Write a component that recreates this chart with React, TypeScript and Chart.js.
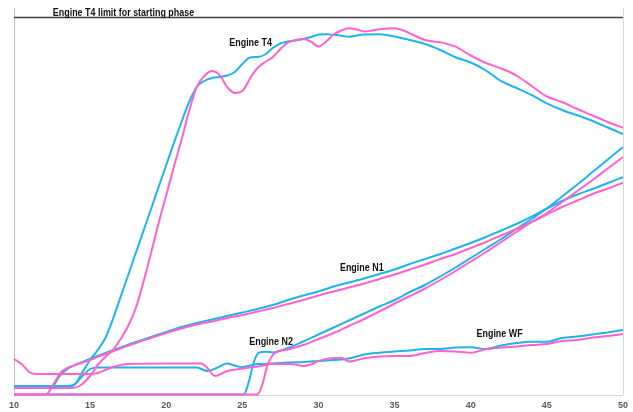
import { useEffect, useRef } from 'react';
import { Chart, registerables } from 'chart.js';

Chart.register(...registerables);

type Pt = [number, number];

// Time axis (s)
const X_MIN = 10;
const X_MAX = 50;
const X_STEP = 5;
const xTicks = [10, 15, 20, 25, 30, 35, 40, 45, 50];

// Vertical scale in relative units (no tick labels shown)
const Y_MAX = 387;
const T4_LIMIT = 377.5;

// Run 1 (blue) and run 2 (pink) traces
const t4Run1: Pt[] = [
  [10, 9], [12, 9], [13.5, 9], [14, 11], [14.5, 23], [15, 35], [15.5, 45], [16, 57], [16.5, 76],
  [17, 98], [17.5, 120], [18, 142], [18.5, 164], [19, 186], [19.5, 208], [20, 230], [20.5, 252],
  [21, 273], [21.5, 293], [22, 308], [22.5, 314], [23, 317], [23.5, 318], [24, 319.5], [24.5, 323],
  [25, 331], [25.5, 337.5], [26, 338], [26.5, 340.5], [27, 347], [27.5, 351.5], [28, 353.5],
  [28.5, 354.5], [29, 356], [29.5, 358], [30, 360.5], [30.5, 360.8], [31, 360.2], [31.5, 359.3],
  [32, 358.3], [33, 360.6], [34, 360.7], [35, 358.5], [36, 355], [37, 351], [38, 345], [39, 337.7],
  [40, 332.5], [41, 324.5], [42, 313.8], [43, 307], [44, 300], [45, 291.7], [46, 285], [47, 279.7],
  [48, 274], [49, 267.5], [50, 261],
];
const t4Run2: Pt[] = [
  [10, 7], [13.8, 7], [14.3, 9], [15, 19], [15.5, 30], [16, 38], [16.5, 45], [17, 56], [17.5, 69],
  [18, 87], [18.5, 113], [19, 142], [19.5, 172], [20, 200], [20.5, 228], [21, 255], [21.5, 284],
  [22, 308], [22.5, 319], [23, 324], [23.5, 320], [24, 308], [24.5, 302], [25, 304], [25.6, 319],
  [26, 327], [26.5, 333], [27, 338], [27.5, 346], [28, 352.5], [28.5, 355], [29, 356], [29.5, 353.3],
  [30, 348.5], [30.5, 353.5], [31, 360.5], [31.5, 364.5], [32, 366.7], [32.5, 365.5], [33, 363.5],
  [33.5, 364.5], [34, 365.7], [35, 366.7], [35.5, 365], [36, 361.7], [37, 355], [38, 352.7],
  [39, 348.3], [40, 339.5], [41, 332], [42, 326.5], [43, 319.5], [44, 309], [45, 298.5], [46, 293],
  [47, 286], [48, 279.5], [49, 273], [50, 267.3],
];

const n1Run1: Pt[] = [
  [10, 9], [12.5, 9], [13, 19], [13.5, 26], [14, 30], [15, 36], [16, 42], [17, 47.5], [18, 53],
  [19, 58], [20, 63], [21, 68], [22, 72], [23, 75.5], [24, 79], [25, 82.5], [26, 86], [27, 90],
  [28, 95], [29, 99.5], [30, 103.5], [31, 108.5], [32, 112.5], [33, 116.5], [34, 121], [35, 125.5],
  [36, 131], [37, 136], [38, 141], [39, 146.5], [40, 152], [41, 158], [42, 164.5], [43, 171],
  [44, 178.3], [45, 186.5], [46, 194], [47, 200.5], [48, 206], [49, 212], [50, 217.7],
];
const n1Run2: Pt[] = [
  [10, 0.5], [12.1, 0.5], [12.6, 11], [13.1, 23], [13.5, 27], [14, 30], [15, 35], [16, 41],
  [17, 46.5], [18, 52], [19, 57], [20, 62], [21, 66.5], [22, 70.5], [23, 73.5], [24, 77], [25, 80],
  [26, 83.5], [27, 87], [28, 91], [29, 95], [30, 99.5], [31, 103.5], [32, 107.5], [33, 111.5],
  [34, 116], [35, 120.5], [36, 125.5], [37, 130.5], [38, 136], [39, 141], [40, 147], [41, 153],
  [42, 159.5], [43, 166], [44, 173], [45, 180.5], [46, 188], [47, 194.5], [48, 201], [49, 206.5],
  [50, 212.3],
];

const n2Run1: Pt[] = [
  [10, 0.5], [25.1, 0.5], [25.4, 12], [25.8, 35], [26.1, 42.3], [26.5, 43.3], [27, 42.5],
  [27.5, 44.5], [28, 47], [29, 53.5], [30, 60.5], [31, 67.5], [32, 74.5], [33, 81.5], [34, 88.5],
  [35, 95], [36, 103], [37, 110], [38, 118.5], [39, 127.5], [40, 137], [41, 146.5], [42, 156],
  [43, 166], [44, 176], [45, 186.5], [46, 198.5], [47, 210.5], [48, 223], [49, 235.5], [50, 248],
];
const n2Run2: Pt[] = [
  [10, 0.5], [26, 0.5], [26.3, 10], [26.65, 30], [27, 40], [27.3, 43.3], [28, 45.5], [29, 50],
  [30, 56], [31, 62], [32, 69], [33, 76], [34, 83.5], [35, 91.5], [36, 99], [37, 106.5], [38, 115],
  [39, 124], [40, 133.5], [41, 143], [42, 153], [43, 163], [44, 173], [45, 182], [46, 193],
  [47, 204], [48, 215], [49, 226.5], [50, 238],
];

const wfRun1: Pt[] = [
  [10, 9], [13.8, 9], [14.5, 19], [15, 26], [15.5, 27.5], [17, 27.5], [20, 27.5], [22, 27.5],
  [22.7, 24], [23.3, 27], [24, 31.5], [24.9, 28], [26, 31], [27, 31.5], [28, 32.5], [29, 33],
  [30, 34], [31, 35], [32, 36.5], [33, 40.5], [34, 42.3], [35, 43.5], [36, 44.5], [37, 46], [38, 46],
  [39, 47.5], [40, 47.7], [41, 46], [42, 49.5], [43, 52], [44, 53.3], [45, 53.3], [46, 57],
  [47, 58.5], [48, 60.5], [49, 62.5], [50, 65],
];
const wfRun2: Pt[] = [
  [10, 36], [10.5, 31], [11, 23], [11.5, 21], [15, 21], [15.5, 22], [16, 25], [16.5, 28], [17, 30],
  [17.5, 31], [20, 31.5], [22.3, 31.5], [22.7, 27], [23.2, 19], [24, 24], [24.8, 26], [26, 28.5],
  [27, 31], [28, 31], [28.5, 30.5], [29, 29], [29.5, 30.5], [30, 34], [31, 37], [31.5, 37.3],
  [32, 33.5], [33, 36.7], [34, 38.5], [35, 39], [36, 39], [37, 42], [38, 44], [39, 43.5],
  [40, 42.3], [41, 45.7], [42, 47.5], [43, 48.5], [44, 50], [45, 51], [46, 54], [47, 55],
  [48, 57.5], [49, 59], [50, 61],
];

// Text callouts, anchored in data coordinates (left edge, baseline)
const calloutText = ['Engine T4 limit for starting phase', 'Engine T4', 'Engine N1', 'Engine N2', 'Engine WF'];
const calloutX = [12.55, 24.14, 31.41, 25.45, 40.38];
const calloutY = [379, 349.3, 124, 50, 58];

const BLUE = '#1eb4ef';
const PINK = '#ff62cc';
const LABEL_FONT = 'bold 10.5px "Liberation Sans", Arial, sans-serif';
// callout lettering is set slightly condensed
const LABEL_CONDENSE = 0.85;

const toXY = (pts: Pt[]) => pts.map(([x, y]) => ({ x, y }));

const frameAndCallouts = {
  id: 'frameAndCallouts',
  afterDatasetsDraw(chart: Chart) {
    const { ctx, chartArea, scales } = chart;
    const xs = scales.x;
    const ys = scales.y;
    ctx.save();
    // right frame line
    ctx.strokeStyle = '#d9d9d9';
    ctx.lineWidth = 1;
    ctx.beginPath();
    ctx.moveTo(Math.round(chartArea.right) + 0.5, chartArea.top);
    ctx.lineTo(Math.round(chartArea.right) + 0.5, chartArea.bottom);
    ctx.stroke();
    // callouts
    ctx.font = LABEL_FONT;
    ctx.fillStyle = '#111111';
    ctx.textAlign = 'left';
    ctx.textBaseline = 'alphabetic';
    calloutText.forEach((t, i) => {
      ctx.save();
      ctx.translate(xs.getPixelForValue(calloutX[i]), ys.getPixelForValue(calloutY[i]));
      ctx.scale(LABEL_CONDENSE, 1);
      ctx.fillText(t, 0, 0);
      ctx.restore();
    });
    ctx.restore();
  },
};

export default function App() {
  const ref = useRef<HTMLCanvasElement | null>(null);

  useEffect(() => {
    document.body.style.margin = '0';
    const canvas = ref.current;
    if (!canvas) return;

    const line = (pts: Pt[], color: string) => ({
      data: toXY(pts),
      borderColor: color,
      backgroundColor: color,
      borderWidth: 2,
      pointRadius: 0,
      fill: false,
      cubicInterpolationMode: 'monotone' as const,
      tension: 0.4,
      clip: 4,
    });

    const chart = new Chart(canvas, {
      type: 'line',
      data: {
        datasets: [
          {
            data: [{ x: X_MIN, y: T4_LIMIT }, { x: X_MAX, y: T4_LIMIT }],
            borderColor: '#404040',
            borderWidth: 1.5,
            pointRadius: 0,
            tension: 0,
          },
          line(t4Run2, PINK),
          line(n1Run2, PINK),
          line(n2Run2, PINK),
          line(wfRun2, PINK),
          line(t4Run1, BLUE),
          line(n1Run1, BLUE),
          line(n2Run1, BLUE),
          line(wfRun1, BLUE),
        ],
      },
      options: {
        responsive: false,
        maintainAspectRatio: false,
        animation: false,
        layout: { padding: { left: 14, right: 8, top: 8, bottom: 0 } },
        plugins: { legend: { display: false }, tooltip: { enabled: false } },
        scales: {
          x: {
            type: 'linear',
            min: X_MIN,
            max: X_MAX,
            grid: { display: false, drawTicks: false },
            border: { display: true, color: '#d9d9d9', width: 1 },
            afterBuildTicks: (scale: any) => {
              scale.ticks = xTicks.map((v) => ({ value: v }));
            },
            ticks: {
              stepSize: X_STEP,
              padding: 5,
              color: '#595959',
              maxRotation: 0,
              autoSkip: false,
              font: { family: '"Liberation Sans", Arial, sans-serif', size: 9, weight: 'bold' },
            },
            afterFit: (scale: any) => {
              scale.height = 17;
            },
          },
          y: {
            type: 'linear',
            min: 0,
            max: Y_MAX,
            grid: { display: false, drawTicks: false },
            border: { display: true, color: '#bfbfbf', width: 1 },
            ticks: { display: false },
            afterFit: (scale: any) => {
              scale.width = 0;
            },
          },
        },
      },
      plugins: [frameAndCallouts],
    });

    return () => chart.destroy();
  }, []);

  return (
    <div style={{ width: 633, height: 412, background: '#ffffff' }}>
      <canvas ref={ref} width={633} height={412} style={{ display: 'block' }} />
    </div>
  );
}
